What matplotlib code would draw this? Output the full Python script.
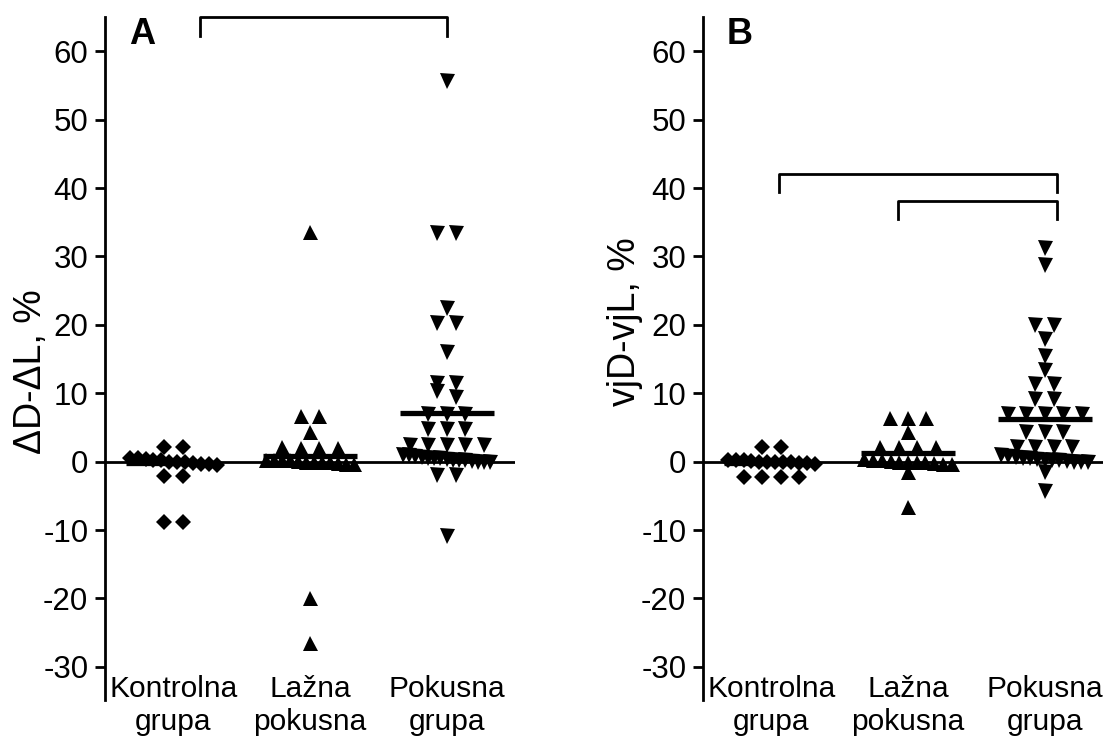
import numpy as np
import matplotlib
matplotlib.use("Agg")
import matplotlib.pyplot as plt

plt.rcParams['font.family'] = ['Liberation Sans', 'DejaVu Sans']
plt.rcParams['axes.unicode_minus'] = False

groups = ["Kontrolna\ngrupa", "Lažna\npokusna", "Pokusna\ngrupa"]
markers = ["D", "^", "v"]

# panel A: ΔD-ΔL, %
ctrl_A = [2.2, 2.2, 0.5, 0.5, 0.4, 0.3, 0.2, 0.0, 0.0, 0.0, -0.2, -0.3, -0.4, -0.5,
          -2.1, -2.1, -8.9, -8.9]
sham_A = [33.5, 6.6, 6.6, 4.4, 2.2, 2.0, 2.0, 2.0,
          0.3, 0.3, 0.2, 0.2, 0.1, 0.0, 0.0, 0.0, -0.1, -0.2, -0.3, -0.4,
          -20.0, -26.5]
exp_A = [55.7, 33.4, 33.4, 22.5, 20.3, 20.3, 16.0, 11.5, 11.5, 10.3, 9.4,
         6.9, 6.9, 6.9, 4.7, 4.7, 4.7, 2.5, 2.5, 2.5, 2.5, 2.5,
         1.0, 0.9, 0.8, 0.7, 0.6, 0.5, 0.5, 0.4, 0.3, 0.3, 0.2, 0.1, 0.0, 0.0, 0.0,
         -2.0, -2.0, -10.9]
mean_A = [-0.2, 0.8, 7.1]

# panel B: vjD-vjL, %
ctrl_B = [2.2, 2.2, 0.3, 0.2, 0.2, 0.1, 0.0, 0.0, 0.0, 0.0, -0.1, -0.2, -0.2, -0.3,
          -2.3, -2.3, -2.3, -2.3]
sham_B = [6.4, 6.4, 6.4, 4.3, 2.1, 2.1, 2.1, 2.1,
          0.4, 0.3, 0.2, 0.1, 0.0, 0.0, 0.0, -0.1, -0.2, -0.3, -0.4,
          -1.5, -6.7]
exp_B = [31.3, 28.8, 20.0, 20.0, 17.9, 15.5, 13.4, 11.3, 11.3, 9.1, 9.1,
         7.0, 7.0, 7.0, 7.0, 7.0, 4.4, 4.4, 4.4, 2.2, 2.2, 2.2, 2.2,
         0.9, 0.8, 0.7, 0.6, 0.5, 0.4, 0.3, 0.3, 0.2, 0.1, 0.0, 0.0, 0.0,
         -1.5, -4.3]
mean_B = [-0.2, 1.2, 6.3]

# significance brackets: (x left, x right, top, leg end)
brackets_A = [(1.195, 3.0, 65.0, 62.2)]
brackets_B = [(1.056, 3.09, 42.0, 39.4), (1.93, 3.09, 38.1, 35.4)]


def swarm_x(values, center, step=0.135, width=0.64, tol=1.05):
    # simple row layout: points with close values share a row and are spread sideways
    vals = np.asarray(values, float)
    order = np.argsort(-vals, kind="stable")
    xs = np.empty_like(vals)
    rows = []
    for i in order:
        if rows and vals[rows[-1][0]] - vals[i] <= tol:
            rows[-1].append(i)
        else:
            rows.append([i])
    for row in rows:
        n = len(row)
        sp = step if n < 2 else min(step, width / (n - 1))
        xs[row] = center + (np.arange(n) - (n - 1) / 2) * sp
    return xs


def panel(ax, data, means, brackets):
    ax.set_xlim(0.5, 3.5)
    ax.set_ylim(-34.85, 65.0)
    for s in ["top", "right", "bottom"]:
        ax.spines[s].set_visible(False)
    ax.spines["left"].set_linewidth(2)
    ax.set_xticks([])
    ax.set_yticks(range(-30, 61, 10))
    ax.tick_params(axis="y", length=7, width=2, labelsize=22.5, pad=5)
    ax.axhline(0, color="black", lw=2, zorder=1)

    for i, (vals, m) in enumerate(zip(data, markers), start=1):
        xs = swarm_x(vals, i)
        ms = 8.2 if m == "D" else 10.8
        ax.plot(xs, vals, linestyle="none", marker=m, ms=ms, color="black",
                markeredgewidth=0, zorder=2, clip_on=False)
        ax.hlines(means[i - 1], i - 0.345, i + 0.345, color="black", lw=3.8, zorder=3)
        ax.text(i, -31.2, groups[i - 1], ha="center", va="top", fontsize=21.5,
                linespacing=1.22, clip_on=False)

    for x0, x1, top, leg in brackets:
        ax.plot([x0, x0, x1, x1], [leg, top, top, leg], color="black", lw=2,
                clip_on=False)


fig = plt.figure(figsize=(11.03, 7.44), dpi=100)
axA = fig.add_axes([105 / 1103, 44 / 744, 410 / 1103, 683 / 744])
axB = fig.add_axes([703 / 1103, 44 / 744, 410 / 1103, 683 / 744])

panel(axA, [ctrl_A, sham_A, exp_A], mean_A, brackets_A)
panel(axB, [ctrl_B, sham_B, exp_B], mean_B, brackets_B)

fig.text(31 / 1103, 1 - 372 / 744, "ΔD-ΔL, %", rotation=90, ha="center", va="center", fontsize=27)
fig.text(625 / 1103, 1 - 322 / 744, "vjD-vjL, %", rotation=90, ha="center", va="center", fontsize=27)
fig.text(142 / 1103, 1 - 35 / 744, "A", weight="bold", ha="center", va="center", fontsize=26)
fig.text(740 / 1103, 1 - 35 / 744, "B", weight="bold", ha="center", va="center", fontsize=26)

fig.savefig("out.png", dpi=100)
